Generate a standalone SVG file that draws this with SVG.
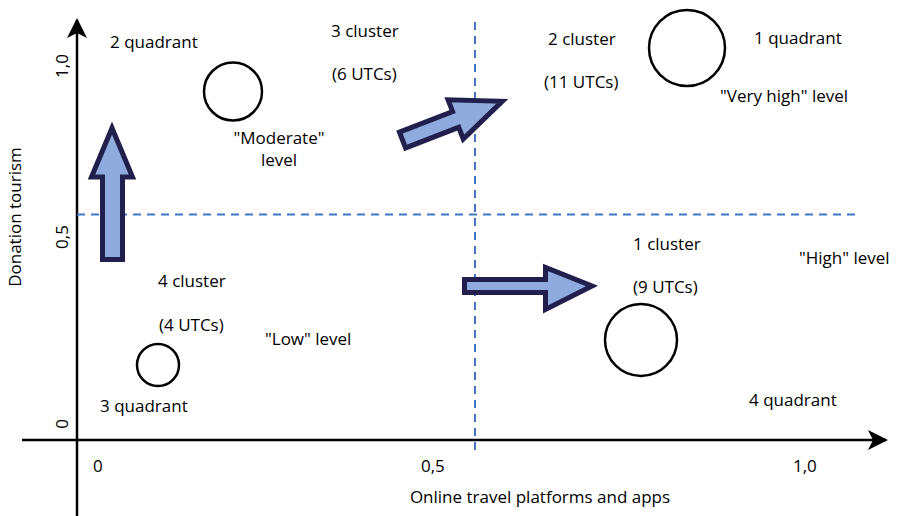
<svg xmlns="http://www.w3.org/2000/svg" width="897" height="516" viewBox="0 0 897 516">
<style>
text{font-family:"Open Sans","Noto Sans","Liberation Sans",sans-serif;font-size:17px;fill:#000}
.axis{stroke:#000;stroke-width:2.5;fill:none}
.dash{stroke:#4472C4;stroke-width:2;stroke-dasharray:8 6;fill:none}
.circ{fill:none;stroke:#000;stroke-width:2.5}
.barrow{fill:#8FAADC;stroke:#211F4D;stroke-width:5;stroke-linejoin:miter}
</style>
<defs>
<marker id="ah" viewBox="0 0 20 20" refX="18" refY="10" markerWidth="20" markerHeight="20" markerUnits="userSpaceOnUse" orient="auto">
<path d="M0,0 L20,10 L0,20 L5,10 Z" fill="#000"/>
</marker>
</defs>
<g id="axes">
<line class="axis" x1="77" y1="516" x2="77" y2="20" marker-end="url(#ah)"/>
<line class="axis" x1="22" y1="440" x2="886" y2="440" marker-end="url(#ah)"/>
<text x="93" y="472">0</text>
<text x="421" y="472">0,5</text>
<text x="793" y="472">1,0</text>
<text x="540" y="503" text-anchor="middle">Online travel platforms and apps</text>
<text transform="translate(68,66) rotate(-90)" text-anchor="middle">1,0</text>
<text transform="translate(68,237) rotate(-90)" text-anchor="middle">0,5</text>
<text transform="translate(68,424) rotate(-90)" text-anchor="middle">0</text>
<text transform="translate(21,217) rotate(-90)" text-anchor="middle">Donation tourism</text>
</g>
<g id="dividers">
<line class="dash" x1="475" y1="22" x2="475" y2="452"/>
<line class="dash" x1="77" y1="214.5" x2="858" y2="214.5"/>
</g>
<g id="quadrant2">
<text x="110" y="48">2 quadrant</text>
</g>
<g id="cluster3">
<circle class="circ" cx="233" cy="91.5" r="29"/>
<text x="331" y="37">3 cluster</text>
<text x="332" y="80">(6 UTCs)</text>
<text x="279" y="144" text-anchor="middle">"Moderate"</text>
<text x="279" y="166" text-anchor="middle">level</text>
</g>
<g id="cluster2">
<circle class="circ" cx="687" cy="48" r="38"/>
<text x="548" y="45">2 cluster</text>
<text x="544" y="88">(11 UTCs)</text>
<text x="754" y="44">1 quadrant</text>
<text x="720" y="102">"Very high" level</text>
</g>
<g id="cluster1">
<circle class="circ" cx="641" cy="340" r="36"/>
<text x="633" y="250">1 cluster</text>
<text x="633" y="293">(9 UTCs)</text>
<text x="799" y="264">"High" level</text>
<text x="749" y="406">4 quadrant</text>
</g>
<g id="cluster4">
<circle class="circ" cx="158" cy="365" r="21"/>
<text x="158" y="287">4 cluster</text>
<text x="159" y="331">(4 UTCs)</text>
<text x="265" y="345">"Low" level</text>
<text x="100" y="412">3 quadrant</text>
</g>
<g id="connectors">
<polygon class="barrow" points="112,128 132.5,177 122.5,177 122.5,259.5 102.5,259.5 102.5,177 91.5,177"/>
<polygon class="barrow" transform="translate(402.5,140) rotate(-21.2)" points="0,-8.5 57,-8.5 57,-21 107,0 57,21 57,8.5 0,8.5"/>
<polygon class="barrow" points="464.5,279.5 545.5,279.5 545.5,267.5 592,286 545.5,309.5 545.5,292.5 464.5,292.5"/>
</g>
</svg>
